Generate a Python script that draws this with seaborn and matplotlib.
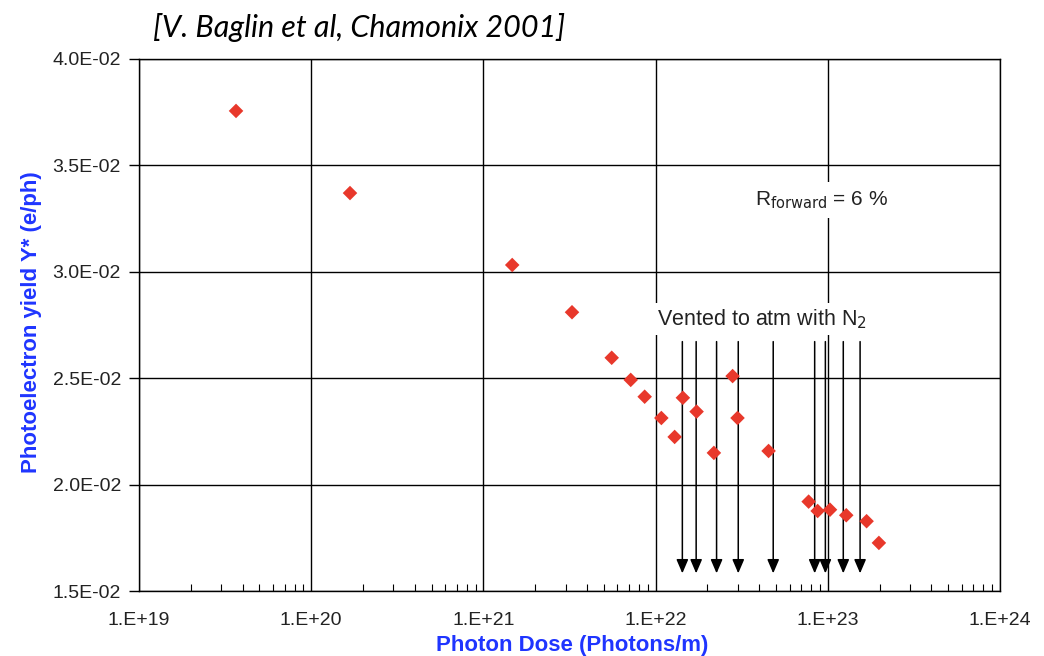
import numpy as np
import pandas as pd
import matplotlib
matplotlib.use("Agg")
import matplotlib.pyplot as plt
import seaborn as sns
from matplotlib.ticker import LogLocator, NullFormatter

# ---- data ----
dose = [3.66e19, 1.68e20, 1.47e21, 3.27e21, 5.56e21, 7.17e21, 8.64e21, 1.08e22,
        1.29e22, 1.44e22, 1.73e22, 2.18e22, 2.80e22, 2.99e22, 4.53e22, 7.74e22,
        8.73e22, 1.03e23, 1.28e23, 1.68e23, 1.98e23]
yield_ = [0.03756, 0.0337, 0.03032, 0.0281, 0.02596, 0.02492, 0.02413, 0.02313,
          0.02224, 0.02408, 0.02343, 0.02149, 0.0251, 0.02313, 0.02158, 0.0192,
          0.01876, 0.01882, 0.01856, 0.01828, 0.01726]
vent_dose = [1.43e22, 1.72e22, 2.26e22, 3.02e22, 4.82e22, 8.39e22, 9.68e22, 1.23e23, 1.54e23]
arrow_top = 0.02672
arrow_tip = 0.01583
xticks = [1e19, 1e20, 1e21, 1e22, 1e23, 1e24]
xticklabels = ["1.E+19", "1.E+20", "1.E+21", "1.E+22", "1.E+23", "1.E+24"]
yticks = [0.015, 0.020, 0.025, 0.030, 0.035, 0.040]
yticklabels = ["1.5E-02", "2.0E-02", "2.5E-02", "3.0E-02", "3.5E-02", "4.0E-02"]

df = pd.DataFrame({"dose": dose, "yield": yield_})

sns.set_theme(style="white")
plt.rcParams["font.family"] = ["Liberation Sans", "DejaVu Sans"]

fig = plt.figure(figsize=(10.44, 6.56), dpi=100)
ax = fig.add_axes([139/1044, 1 - 591/656, (1000 - 139)/1044, (591 - 59)/656])

ax.set_xscale("log")
ax.set_xlim(1e19, 1e24)
ax.set_ylim(0.015, 0.040)

ax.set_xticks(xticks)
ax.set_xticklabels(xticklabels)
ax.set_yticks(yticks)
ax.set_yticklabels(yticklabels)
ax.xaxis.set_minor_locator(LogLocator(base=10, subs=np.arange(2, 10)))
ax.xaxis.set_minor_formatter(NullFormatter())
ax.grid(True, which="major", color="black", linewidth=1.0)
ax.set_axisbelow(True)

for s in ax.spines.values():
    s.set_color("black")
    s.set_linewidth(1.0)

ax.tick_params(axis="x", which="major", direction="in", length=0, pad=15,
               labelsize=14, colors="black")
ax.tick_params(axis="x", which="minor", direction="in", length=5, width=0.8,
               color="black", bottom=True)
ax.tick_params(axis="y", which="major", direction="out", length=7, width=1,
               color="black", left=True, labelsize=14, pad=6)
for lab in ax.get_yticklabels() + ax.get_xticklabels():
    lab.set_color("#222222")

# arrows
for xd in vent_dose:
    ax.annotate("", xy=(xd, arrow_tip), xytext=(xd, arrow_top),
                arrowprops=dict(arrowstyle="-|>,head_length=0.7,head_width=0.3",
                                color="black", lw=1.1, shrinkA=0, shrinkB=0),
                zorder=3)

sns.scatterplot(data=df, x="dose", y="yield", ax=ax, marker="D", s=55,
                color="#e8382b", edgecolor="none", linewidth=0, zorder=4)

ax.set_xlabel("Photon Dose (Photons/m)", color="#1f35ff", fontsize=16,
              fontweight="bold", va="center")
ax.xaxis.set_label_coords((572 - 139) / 861, -54 / 532)
ax.set_ylabel("Photoelectron yield Y* (e/ph)", color="#1f35ff", fontsize=16,
              fontweight="bold", va="center")
ax.yaxis.set_label_coords((32 - 139) / 861, (591 - 322) / 532)

ax.text(1.02e22, 0.02778, "Vented to atm with N$_2$", fontsize=15.5, color="#222222",
        ha="left", va="center", zorder=5,
        bbox=dict(facecolor="white", edgecolor="none", pad=3))
ax.text(3.78e22, 0.03337, "R$_{\\mathrm{forward}}$ = 6 %", fontsize=15, color="#222222",
        ha="left", va="center", zorder=5,
        bbox=dict(facecolor="white", edgecolor="none", pad=5))

fig.text(153/1044, 1 - 27/656, "[V. Baglin et al, Chamonix 2001]", fontsize=22,
         style="italic", family=["Lato", "Open Sans", "DejaVu Sans"], ha="left",
         va="center", color="black")

fig.savefig("out.png", dpi=100)
